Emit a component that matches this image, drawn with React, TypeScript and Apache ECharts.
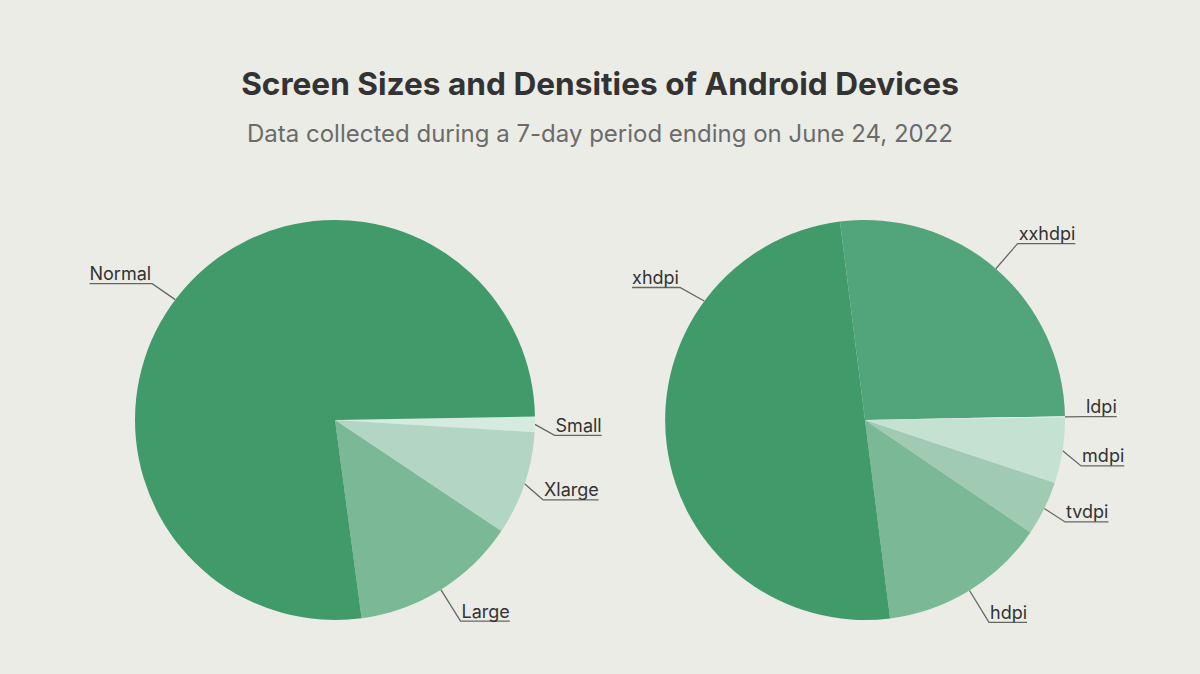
import { useEffect, useRef } from "react";
import * as echarts from "echarts";

const titleText = "Screen Sizes and Densities of Android Devices";
const subtitleText = "Data collected during a 7-day period ending on June 24, 2022";

const sizeNames = ["Small", "Xlarge", "Large", "Normal"];
const sizeValues = [1.25, 8.4, 13.5, 76.85];
const sizeColors = ["#d6ebe0", "#b3d6c4", "#7bb996", "#409a6a"];

const densityNames = ["xxhdpi", "ldpi", "mdpi", "tvdpi", "hdpi", "xhdpi"];
const densityValues = [26.7, 0.1, 5.3, 4.4, 13.5, 50.0];
const densityColors = ["#52a57a", "#deefe6", "#c4e1d2", "#a0cbb2", "#7bb996", "#409a6a"];

// label-line layout tweaks (degrees, counter-clockwise from east)
// edge: where the leader line leaves the pie; outer: where the label sits
const edgeAngleOverride: Record<string, number> = { Normal: 143, xhdpi: 143.5 };
const outerAngleOverride: Record<string, number> = {
  Normal: 143.3,
  xhdpi: 144.4,
  Small: -4,
  Xlarge: -21,
  mdpi: -12,
  tvdpi: -27,
};

type PieDef = {
  names: string[];
  values: number[];
  colors: string[];
  center: [number, number];
  radius: number;
  startAngle: number;
};

const pies: PieDef[] = [
  { names: sizeNames, values: sizeValues, colors: sizeColors, center: [335, 420], radius: 200, startAngle: 1 },
  { names: densityNames, values: densityValues, colors: densityColors, center: [865, 420], radius: 200, startAngle: 97.2 },
];

function midAngle(p: PieDef, i: number): number {
  const total = p.values.reduce((a, b) => a + b, 0);
  let before = 0;
  for (let j = 0; j < i; j++) before += p.values[j];
  return p.startAngle - (360 * (before + p.values[i] / 2)) / total;
}

export default function App() {
  const ref = useRef<HTMLDivElement>(null);

  useEffect(() => {
    if (!ref.current) return;
    const chart = echarts.init(ref.current, undefined, { renderer: "svg" });
    // labels sit on an ellipse around the pie
    const ELL_A = 220;
    const ELL_B = 245;

    const series = pies.map((p) => ({
      type: "pie",
      center: p.center,
      radius: p.radius,
      startAngle: p.startAngle,
      clockwise: true,
      avoidLabelOverlap: false,
      silent: true,
      emphasis: { disabled: true },
      itemStyle: { borderWidth: 0 },
      data: p.names.map((n, i) => ({ name: n, value: p.values[i], itemStyle: { color: p.colors[i] } })),
      label: {
        show: true,
        formatter: "{b}",
        color: "#333333",
        fontFamily: "Inter",
        fontSize: 18,
      },
      labelLine: {
        show: true,
        length: 20,
        length2: 20,
        smooth: false,
        lineStyle: { color: "#666666", width: 1.3 },
      },
      labelLayout: (params: any) => {
        const name = p.names[params.dataIndex];
        const mid = midAngle(p, params.dataIndex);
        const a0 = ((edgeAngleOverride[name] ?? mid) * Math.PI) / 180;
        const a1 = ((outerAngleOverride[name] ?? mid) * Math.PI) / 180;
        const [cx, cy] = p.center;
        const c1 = Math.cos(a1);
        const s1 = Math.sin(a1);
        const er = (ELL_A * ELL_B) / Math.sqrt((ELL_B * c1) ** 2 + (ELL_A * s1) ** 2);
        const p0 = [cx + p.radius * Math.cos(a0), cy - p.radius * Math.sin(a0)];
        const p1 = [cx + er * c1, cy - er * s1];
        const right = c1 >= 0;
        const w = params.labelRect.width;
        const p2 = [p1[0] + (right ? w + 1 : -(w + 1)), p1[1]];
        return {
          x: right ? p1[0] + 1 : p1[0] - 1,
          y: p1[1] - 1,
          align: right ? "left" : "right",
          verticalAlign: "bottom",
          labelLinePoints: [p0, p1, p2],
        };
      },
    }));

    chart.setOption({
      animation: false,
      backgroundColor: "#ecece6",
      title: {
        text: titleText,
        subtext: subtitleText,
        left: "center",
        top: 62,
        itemGap: 22,
        textStyle: { fontFamily: "Inter", fontSize: 31.6, fontWeight: 700, color: "#333333" },
        subtextStyle: { fontFamily: "Inter", fontSize: 24, fontWeight: 400, color: "#6b6b6b" },
      },
      series,
    });

    return () => chart.dispose();
  }, []);

  return (
    <div
      ref={ref}
      style={{ position: "absolute", left: 0, top: 0, width: 1200, height: 674 }}
    />
  );
}
